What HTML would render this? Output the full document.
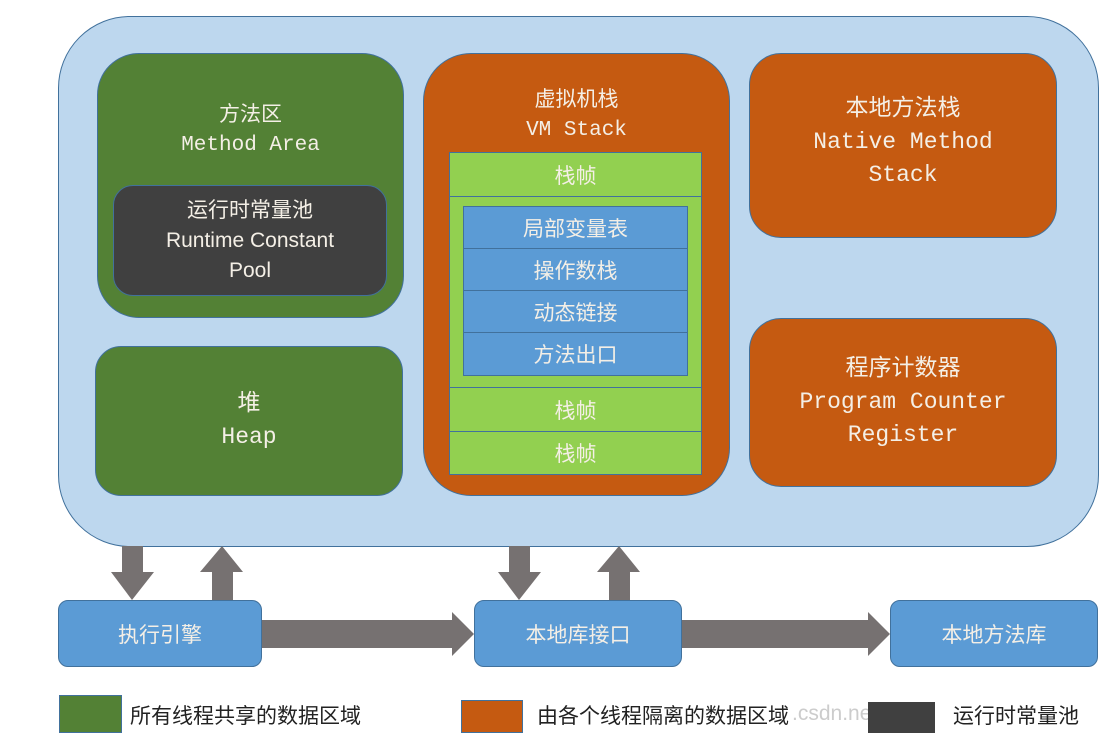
<!DOCTYPE html>
<html><head><meta charset="utf-8"><style>
body{margin:0;width:1119px;height:743px;background:#fff;position:relative;overflow:hidden;font-family:"Liberation Sans","Noto Sans CJK SC",sans-serif;}
.a{position:absolute;box-sizing:border-box;}
.c{display:flex;flex-direction:column;align-items:center;justify-content:center;text-align:center;color:#f4efe6;}
.mono{font-family:"Liberation Mono","Noto Sans CJK SC",monospace;}
.g{background:#92d050;border:1px solid #41719c;}
.b{background:#5b9bd5;border:1px solid #41719c;}
.gr{background:#767171;}
</style></head><body>
<div class="a" style="left:58px;top:16px;width:1041px;height:531px;background:#bdd7ee;border:1.5px solid #41719c;border-radius:72px;"></div>

<div class="a c mono" style="left:97px;top:53px;width:307px;height:265px;background:#538135;border:1px solid #41719c;border-radius:42px;justify-content:flex-start;padding-top:48px;font-size:21px;line-height:29px;">
<div>方法区</div><div>Method Area</div></div>
<div class="a c" style="left:113px;top:185px;width:274px;height:111px;background:#404040;border:1px solid #41719c;border-radius:20px;font-size:21px;line-height:30px;">
<div>运行时常量池</div><div>Runtime Constant</div><div>Pool</div></div>

<div class="a c mono" style="left:95px;top:346px;width:308px;height:150px;background:#538135;border:1px solid #41719c;border-radius:26px;font-size:23px;line-height:33px;">
<div>堆</div><div>Heap</div></div>

<div class="a c mono" style="left:423px;top:53px;width:307px;height:443px;background:#c55a11;border:1px solid #41719c;border-radius:48px;justify-content:flex-start;padding-top:33px;font-size:21px;line-height:29px;">
<div>虚拟机栈</div><div>VM Stack</div></div>
<div class="a c g" style="left:449px;top:152px;width:253px;height:45px;font-size:21px;">栈帧</div>
<div class="a g" style="left:449px;top:196px;width:253px;height:192px;"></div>
<div class="a c b" style="left:463px;top:206px;width:225px;height:43px;font-size:21px;">局部变量表</div>
<div class="a c b" style="left:463px;top:248px;width:225px;height:43px;font-size:21px;">操作数栈</div>
<div class="a c b" style="left:463px;top:290px;width:225px;height:43px;font-size:21px;">动态链接</div>
<div class="a c b" style="left:463px;top:332px;width:225px;height:44px;font-size:21px;">方法出口</div>
<div class="a c g" style="left:449px;top:387px;width:253px;height:45px;font-size:21px;">栈帧</div>
<div class="a c g" style="left:449px;top:431px;width:253px;height:44px;font-size:21px;">栈帧</div>

<div class="a c mono" style="left:749px;top:53px;width:308px;height:185px;background:#c55a11;border:1px solid #41719c;border-radius:32px;font-size:23px;line-height:33px;padding-bottom:6px;">
<div>本地方法栈</div><div>Native Method</div><div>Stack</div></div>
<div class="a c mono" style="left:749px;top:318px;width:308px;height:169px;background:#c55a11;border:1px solid #41719c;border-radius:32px;font-size:23px;line-height:33px;">
<div>程序计数器</div><div>Program Counter</div><div>Register</div></div>

<svg class="a" style="left:0;top:0" width="1119" height="743">
<g fill="#767171">
<polygon points="122,546 143,546 143,572 154,572 132,600 111,572 122,572"/>
<polygon points="212,600 233,600 233,572 243,572 222,546 200,572 212,572"/>
<polygon points="509,546 530,546 530,572 541,572 519,600 498,572 509,572"/>
<polygon points="609,600 630,600 630,572 640,572 619,546 597,572 609,572"/>
<polygon points="262,620 452,620 452,612 474,634 452,656 452,648 262,648"/>
<polygon points="682,620 868,620 868,612 890,634 868,656 868,648 682,648"/>
</g></svg>

<div class="a c" style="left:58px;top:600px;width:204px;height:67px;background:#5b9bd5;border:1px solid #41719c;border-radius:10px;font-size:21px;">执行引擎</div>
<div class="a c" style="left:474px;top:600px;width:208px;height:67px;background:#5b9bd5;border:1px solid #41719c;border-radius:10px;font-size:21px;">本地库接口</div>
<div class="a c" style="left:890px;top:600px;width:208px;height:67px;background:#5b9bd5;border:1px solid #41719c;border-radius:10px;font-size:21px;">本地方法库</div>

<div class="a" style="left:59px;top:695px;width:63px;height:38px;background:#538135;border:1px solid #41719c;"></div>
<div class="a" style="left:130px;top:700px;font-size:21px;color:#222;">所有线程共享的数据区域</div>
<div class="a" style="left:461px;top:700px;width:62px;height:33px;background:#c55a11;border:1px solid #41719c;"></div>
<div class="a" style="left:537px;top:700px;font-size:21px;color:#222;">由各个线程隔离的数据区域</div>
<div class="a" style="left:792px;top:702px;font-size:21px;color:#ccc;">.csdn.net</div>
<div class="a" style="left:868px;top:702px;width:67px;height:31px;background:#404040;"></div>
<div class="a" style="left:953px;top:700px;font-size:21px;color:#222;">运行时常量池</div>
</body></html>
